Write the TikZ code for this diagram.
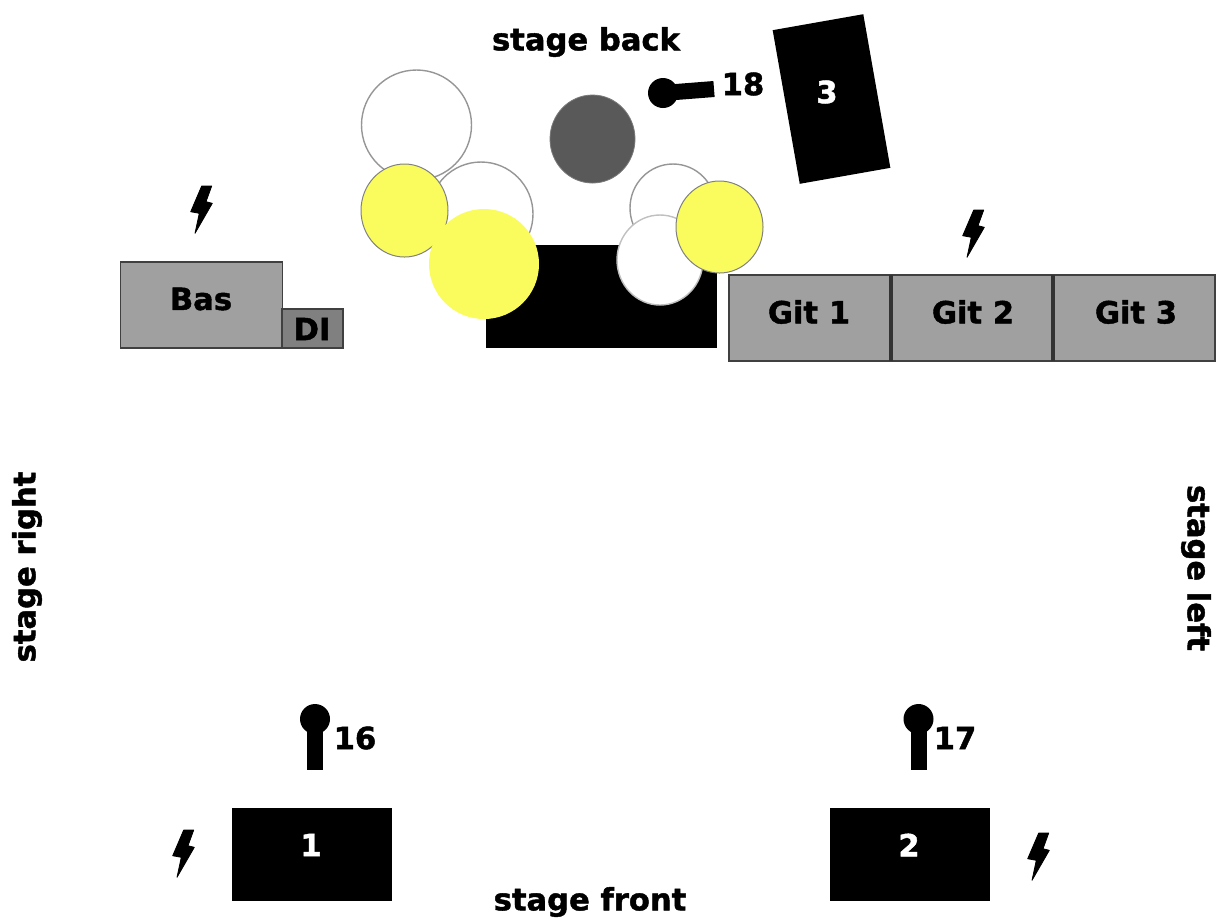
\documentclass[tikz,border=0pt]{standalone}
\usepackage{xcolor}
\usepackage{fontspec}
\setmainfont{DejaVu Sans}[BoldFeatures={FakeBold=1.4}]
\usetikzlibrary{positioning, shapes.geometric}
\definecolor{ampgray}{RGB}{160,160,160}
\definecolor{digray}{RGB}{128,128,128}
\definecolor{edgegray}{RGB}{150,150,150}
\definecolor{drumyellow}{RGB}{250,252,94}
\definecolor{drumdark}{RGB}{89,89,89}
\tikzset{
  labeltext/.style={font=\bfseries\fontsize{15.3}{18}\selectfont, inner sep=0pt},
  graybox/.style={rectangle, draw=black!75, line width=0.9pt, fill=ampgray,
    minimum width=81pt, minimum height=43pt, outer sep=0pt, inner sep=0pt},
  blackbox/.style={rectangle, fill=black, outer sep=0pt, inner sep=0pt},
  drum/.style={ellipse, draw=edgegray, line width=0.7pt, fill=white,
    inner sep=0pt, outer sep=0pt},
  cymbal/.style={ellipse, draw=black!50, line width=0.5pt, fill=drumyellow,
    inner sep=0pt, outer sep=0pt},
  michead/.style={circle, fill=black, minimum size=15pt, inner sep=0pt, outer sep=0pt},
  micstem/.style={line width=8pt, color=black},
  divider/.style={line width=1.7pt, color=black!80},
  pics/bolt/.style={code={
    \filldraw[black, line width=0.4pt, line join=round] (0.7,-23) -- (10.7,-23) -- (5,-7.3)
      -- (11.3,-5.7) -- (-6,24.3) -- (-1.7,4.3) -- (-10.3,2.7) -- cycle;
  }},
}
\begin{document}
\begin{tikzpicture}[x=0.5pt, y=-0.5pt]
  \useasboundingbox (0,0) rectangle (1218,918);

  % drum kit
  \node[drum, minimum width=55pt, minimum height=55pt] (tomback) at (416.5,125) {};
  \node[drum, minimum width=52pt, minimum height=52pt] (tomleft) at (481,214) {};
  \node[ellipse, fill=drumdark, draw=drumdark!80, minimum width=42.5pt, minimum height=44pt, inner sep=0pt] (kick) at (592.5,139) {};
  \node[drum, minimum width=43pt, minimum height=44pt] (tomright) at (673,208) {};
  \node[blackbox, minimum width=115.5pt, minimum height=51.5pt] (riser) at (601.5,296.5) {};
  \node[drum, draw=edgegray!60, minimum width=43pt, minimum height=45pt] (snare) at (660,260) {};
  \node[cymbal, minimum width=43.5pt, minimum height=46.5pt] (crashleft) at (404.5,210.5) {};
  \node[circle, fill=drumyellow, minimum size=55pt, inner sep=0pt] (rideleft) at (484,264) {};
  \node[cymbal, minimum width=43.5pt, minimum height=46pt] (crashright) at (719.5,227) {};

  % amps back line
  \node[graybox] (bas) at (201.5,305) {};
  \node[graybox, fill=digray, minimum width=30.5pt, minimum height=19.5pt] (di) at (312.5,328.5) {};
  \node[graybox] (git1) at (810,318) {};
  \node[graybox, right=0pt of git1] (git2) {};
  \node[graybox, right=0pt of git2] (git3) {};
  \draw[divider] (git1.north east) -- (git1.south east);
  \draw[divider] (git2.north east) -- (git2.south east);
  \node[labeltext] (baslabel) at (201,299) {Bas};
  \node[labeltext] (dilabel) at (312,329) {DI};
  \node[labeltext] (git1label) at (809,312) {Git 1};
  \node[labeltext] (git2label) at (973,312) {Git 2};
  \node[labeltext] (git3label) at (1136,312) {Git 3};

  % monitors
  \node[blackbox, minimum width=46pt, minimum height=78pt, rotate=10] (mon3) at (831.5,99) {};
  \node[blackbox, minimum width=80pt, minimum height=46.5pt] (mon1) at (312,854.5) {};
  \node[blackbox, minimum width=80pt, minimum height=46.5pt] (mon2) at (910,854.5) {};
  \node[labeltext, text=white] (mon3label) at (827,92) {3};
  \node[labeltext, text=white] (mon1label) at (311,845) {1};
  \node[labeltext, text=white] (mon2label) at (909,845) {2};

  % mics
  \node[michead] (mic16) at (315,719) {};
  \coordinate (foot16) at (315,770);
  \draw[micstem] (mic16.center) -- (foot16);
  \node[labeltext] (num16) at (355,738) {16};
  \node[michead] (mic17) at (918.5,719) {};
  \coordinate (foot17) at (918.5,770);
  \draw[micstem] (mic17.center) -- (foot17);
  \node[labeltext] (num17) at (955,738) {17};
  \node[michead] (mic18) at (663,93) {};
  \coordinate (foot18) at (714,89);
  \draw[micstem] (mic18.center) -- (foot18);
  \node[labeltext] (num18) at (743,84) {18};

  % power
  \pic at (201,209) {bolt};
  \pic at (973,233) {bolt};
  \pic at (183,853) {bolt};
  \pic at (1038,856) {bolt};

  % stage sides
  \node[labeltext] (back) at (586,42) {stage back};
  \node[labeltext] (front) at (590,902) {stage front};
  \node[labeltext, rotate=90] (right) at (27,567) {stage right};
  \node[labeltext, rotate=-90] (left) at (1196,568) {stage left};
\end{tikzpicture}
\end{document}
